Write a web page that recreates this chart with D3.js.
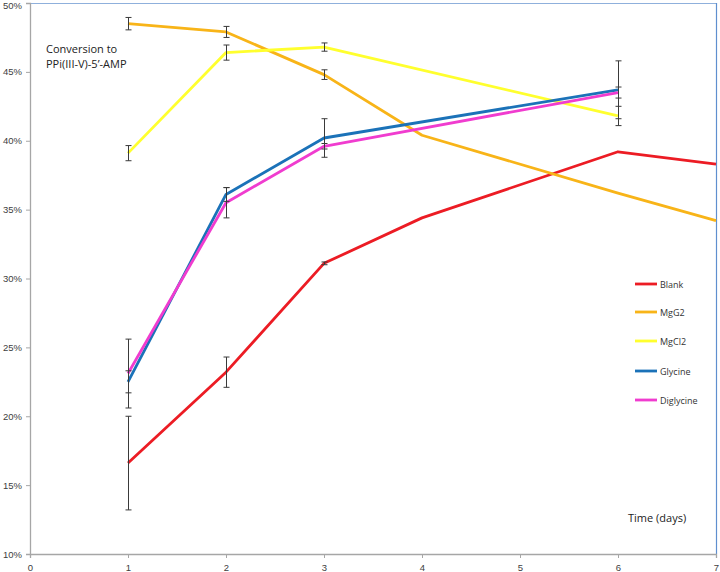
<!DOCTYPE html>
<html>
<head>
<meta charset="utf-8">
<script src="https://cdn.jsdelivr.net/npm/d3@7"></script>
<style>
  body { margin: 0; background: #fff; }
  svg { display: block; font-family: "Open Sans", "Noto Sans", sans-serif; }
</style>
</head>
<body>
<div id="chart"></div>
<script>
// values (percent)
var seriesNames = ["Blank", "MgG2", "MgCl2", "Glycine", "Diglycine"];
var seriesColors = ["#ec1c24", "#f8b418", "#ffff2e", "#1b72b8", "#f03ccf"];

var blankDays = [1, 2, 3, 4, 6, 7];
var blankVals = [16.6, 23.2, 31.1, 34.4, 39.2, 38.3];
var blankErr  = [3.4, 1.1, 0.1, 0, 0, 0];

var mgg2Days = [1, 2, 3, 4, 6, 7];
var mgg2Vals = [48.5, 47.9, 44.8, 40.4, 36.2, 34.2];
var mgg2Err  = [0.45, 0.4, 0.35, 0, 0, 0];

var mgcl2Days = [1, 2, 3, 6];
var mgcl2Vals = [39.1, 46.4, 46.8, 41.8];
var mgcl2Err  = [0.55, 0.55, 0.3, 0.7];

var glyDays = [1, 2, 3, 6];
var glyVals = [22.5, 36.1, 40.2, 43.7];
var glyErr  = [0.8, 0.5, 1.4, 2.1];

var diglyDays = [1, 2, 3, 6];
var diglyVals = [23.1, 35.5, 39.6, 43.5];
var diglyErr  = [2.5, 1.1, 0.2, 0.4];

var xTicks = [0, 1, 2, 3, 4, 5, 6, 7];
var yTicks = [10, 15, 20, 25, 30, 35, 40, 45, 50];

var WIDTH = 720, HEIGHT = 572;
var LEFT = 30, RIGHT = 716, TOP = 3, BOTTOM = 554;

var svg = d3.select("#chart").append("svg").attr("width", WIDTH).attr("height", HEIGHT)

var x = d3.scaleLinear().domain([0, 7]).range([LEFT, RIGHT])
var y = d3.scaleLinear().domain([10, 50]).range([BOTTOM, TOP])

// plot area border (top + right are blue in the original)
svg.append("line").attr("x1", LEFT).attr("x2", RIGHT).attr("y1", TOP + 0.5).attr("y2", TOP + 0.5)
  .attr("stroke", "#8fb0dc").attr("stroke-width", 1)
svg.append("line").attr("x1", RIGHT + 0.5).attr("x2", RIGHT + 0.5).attr("y1", TOP).attr("y2", BOTTOM)
  .attr("stroke", "#5f8fcf").attr("stroke-width", 1.2)

// axes
var xAxis = d3.axisBottom(x).tickValues(xTicks).tickSize(4).tickFormat(d3.format("d"))
var yAxis = d3.axisLeft(y).tickValues(yTicks).tickSize(4).tickFormat(d => d + "%")

var gx = svg.append("g").attr("transform", "translate(0," + BOTTOM + ")").call(xAxis)
var gy = svg.append("g").attr("transform", "translate(" + LEFT + ",0)").call(yAxis)
gx.select(".domain").attr("stroke", "#a6a6a6").attr("stroke-width", 1.3)
gy.select(".domain").attr("stroke", "#a6a6a6").attr("stroke-width", 1.3)
gx.selectAll(".tick line").attr("stroke", "#a6a6a6")
gy.selectAll(".tick line").attr("stroke", "#a6a6a6")
gx.selectAll("text").attr("font-size", 9.5).attr("fill", "#404040").attr("dy", "1.05em")
gy.selectAll("text").attr("font-size", 9.5).attr("fill", "#404040").attr("x", -8)
// top label sits at the very edge; nudge it down so it stays readable
gy.selectAll(".tick text").filter(d => d === 50).attr("dy", "0.6em")

var allSeries = [
  { days: blankDays, vals: blankVals, err: blankErr },
  { days: mgg2Days, vals: mgg2Vals, err: mgg2Err },
  { days: mgcl2Days, vals: mgcl2Vals, err: mgcl2Err },
  { days: glyDays, vals: glyVals, err: glyErr },
  { days: diglyDays, vals: diglyVals, err: diglyErr }
]

var line = d3.line().x(d => x(d[0])).y(d => y(d[1]))

allSeries.forEach((s, i) => {
  var pts = s.days.map((d, j) => [d, s.vals[j]])
  svg.append("path").datum(pts).attr("d", line).attr("fill", "none")
    .attr("stroke", seriesColors[i]).attr("stroke-width", 2.8).attr("stroke-linejoin", "round")
})

// error bars on top of the lines
allSeries.forEach((s, i) => {
  var eb = svg.append("g").attr("stroke", "#3a3a3a").attr("stroke-width", 1)
  s.days.forEach((d, j) => {
    var e = s.err[j]
    if (!e) return
    var cx = Math.round(x(d)) + 0.5
    var y1 = y(s.vals[j] + e), y2 = y(s.vals[j] - e)
    eb.append("line").attr("x1", cx).attr("x2", cx).attr("y1", y1).attr("y2", y2)
    eb.append("line").attr("x1", cx - 3).attr("x2", cx + 3).attr("y1", y1).attr("y2", y1)
    eb.append("line").attr("x1", cx - 3).attr("x2", cx + 3).attr("y1", y2).attr("y2", y2)
  })
})

// legend
var legend = svg.append("g").attr("transform", "translate(635,284)")
var legendGap = [0, 28, 57, 87, 116]
seriesNames.forEach((name, i) => {
  var row = legend.append("g").attr("transform", "translate(0," + legendGap[i] + ")")
  row.append("line").attr("x1", 0).attr("x2", 22).attr("stroke", seriesColors[i]).attr("stroke-width", 2.8)
  row.append("text").attr("x", 25).attr("y", 3.5).attr("font-size", 9).attr("fill", "#333").text(name)
})

// annotations
var note = svg.append("text").attr("x", 46).attr("y", 53).attr("font-size", 11).attr("fill", "#222")
note.append("tspan").attr("x", 46).text("Conversion to")
note.append("tspan").attr("x", 46).attr("dy", 15).text("PPi(III-V)-5\u2019-AMP")

svg.append("text").attr("x", 628).attr("y", 522).attr("font-size", 11).attr("fill", "#222").text("Time (days)")
</script>
</body>
</html>
